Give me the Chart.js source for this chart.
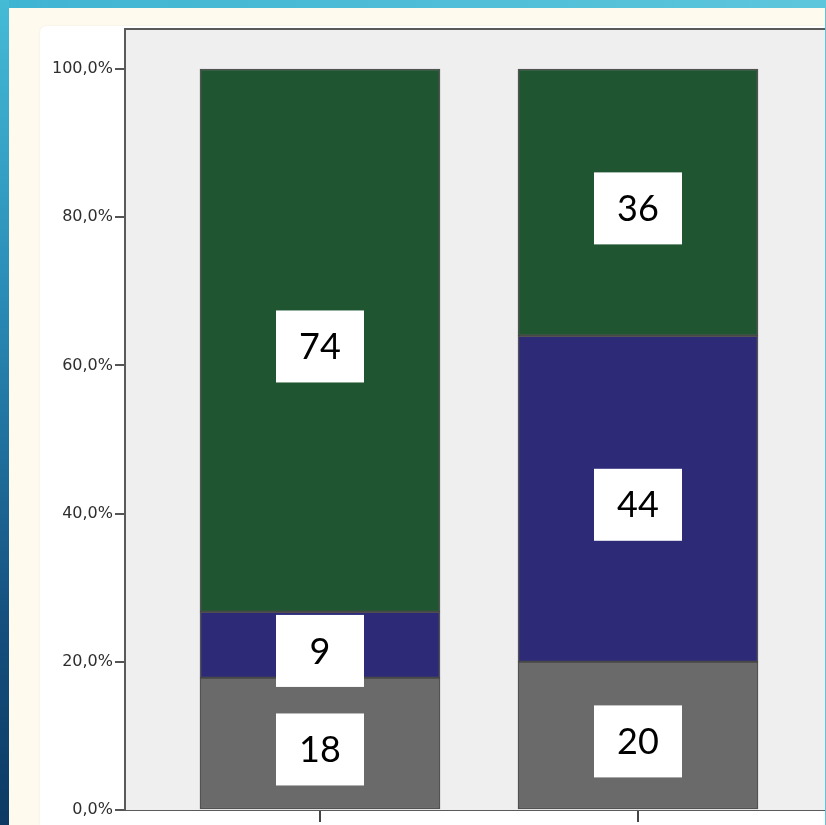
<!DOCTYPE html>
<html>
<head>
<meta charset="utf-8">
<script src="https://cdn.jsdelivr.net/npm/chart.js@4.4.1/dist/chart.umd.min.js"></script>
<style>
  html, body { margin: 0; padding: 0; }
  body { width: 826px; height: 825px; background: #fffaee; position: relative; overflow: hidden; }
  .band-top { position: absolute; left: 0; top: 0; width: 826px; height: 8px; background: linear-gradient(90deg, #3fb4d2, #5cc6dc); }
  .band-left { position: absolute; left: 0; top: 0; width: 9px; height: 825px; background: linear-gradient(180deg, #45bbd6 0%, #2a8db8 35%, #15507f 75%, #0c3a64 100%); }
  .band-right { position: absolute; right: 0; top: 0; width: 1px; height: 825px; background: #5ec4da; }
  .panel { position: absolute; left: 40px; top: 26px; width: 786px; height: 799px; background: #fff; border-top-left-radius: 6px; box-shadow: 0 0 2px rgba(0,0,0,0.08); }
  #wrap { position: absolute; left: 0; top: 0; width: 826px; height: 825px; }
</style>
</head>
<body>
<div class="band-top"></div>
<div class="band-left"></div>
<div class="panel"></div>
<div id="wrap"><canvas id="chart"></canvas></div>
<div class="band-right"></div>
<script>
// counts per group, bottom segment first
const groupPos = [1, 2];
const grayCounts = [18, 20];
const blueCounts = [9, 44];
const greenCounts = [74, 36];
const yTicks = [0, 20, 40, 60, 80, 100];

const totals = groupPos.map((_, i) => grayCounts[i] + blueCounts[i] + greenCounts[i]);
const toPct = (arr) => arr.map((v, i) => ({ x: groupPos[i], y: (v / totals[i]) * 100, n: v }));

const plotFrame = {
  id: "plotFrame",
  beforeDatasetsDraw(chart) {
    const { ctx, chartArea: a } = chart;
    ctx.save();
    ctx.fillStyle = "#efefef";
    ctx.fillRect(a.left, a.top, a.right - a.left, a.bottom - a.top);
    ctx.strokeStyle = "#5a5a5a";
    ctx.lineWidth = 2;
    ctx.beginPath();
    ctx.moveTo(a.left, a.bottom);
    ctx.lineTo(a.left, a.top);
    ctx.lineTo(a.right, a.top);
    ctx.stroke();
    ctx.restore();
  },
};

// white boxes with the raw count in the middle of each segment
const countBoxes = {
  id: "countBoxes",
  afterDatasetsDraw(chart) {
    const { ctx } = chart;
    ctx.save();
    ctx.font = "36px Lato, 'Noto Sans', sans-serif";
    ctx.textAlign = "center";
    ctx.textBaseline = "middle";
    chart.data.datasets.forEach((ds, di) => {
      chart.getDatasetMeta(di).data.forEach((bar, i) => {
        const top = Math.min(bar.y, bar.base);
        const bot = Math.max(bar.y, bar.base);
        const cy = (top + bot) / 2 + 6;
        const w = 88, h = 72;
        ctx.fillStyle = "#ffffff";
        ctx.fillRect(bar.x - w / 2, cy - h / 2, w, h);
        ctx.fillStyle = "#000000";
        ctx.fillText(String(ds.data[i].n), bar.x, cy + 1);
      });
    });
    ctx.restore();
  },
};

const barStyle = { borderColor: "rgba(30,30,30,0.75)", borderWidth: 1.5, borderSkipped: false, barThickness: 240 };

new Chart(document.getElementById("chart"), {
  type: "bar",
  data: {
    datasets: [
      { data: toPct(grayCounts), backgroundColor: "#6a6a6a", ...barStyle },
      { data: toPct(blueCounts), backgroundColor: "#2d2a78", ...barStyle },
      { data: toPct(greenCounts), backgroundColor: "#1f5631", ...barStyle },
    ],
  },
  options: {
    responsive: true,
    maintainAspectRatio: false,
    animation: false,
    layout: { padding: { left: 40, top: 29, right: 0, bottom: 0 } },
    plugins: { legend: { display: false }, tooltip: { enabled: false } },
    scales: {
      x: {
        type: "linear",
        stacked: true,
        offset: false,
        min: 0.3868,
        max: 2.5912,
        afterBuildTicks: (s) => { s.ticks = groupPos.map((v) => ({ value: v })); },
        afterFit: (s) => { s.height = 15; },
        ticks: { display: false },
        grid: { offset: false, drawOnChartArea: false, drawTicks: true, tickLength: 12, color: "#444", lineWidth: 2 },
        border: { color: "#5a5a5a", width: 2 },
      },
      y: {
        stacked: true,
        min: 0,
        max: 105.4,
        afterBuildTicks: (s) => { s.ticks = yTicks.map((v) => ({ value: v })); },
        afterFit: (s) => { s.width = 85; },
        ticks: {
          padding: 2,
          color: "#2e2e2e",
          font: { family: "'DejaVu Sans', sans-serif", size: 16 },
          callback: (v) => v.toFixed(1).replace(".", ",") + "%",
        },
        grid: { drawOnChartArea: false, drawTicks: true, tickLength: 10, color: "#555", lineWidth: 2 },
        border: { color: "#5a5a5a", width: 2 },
      },
    },
  },
  plugins: [plotFrame, countBoxes],
});
</script>
</body>
</html>
